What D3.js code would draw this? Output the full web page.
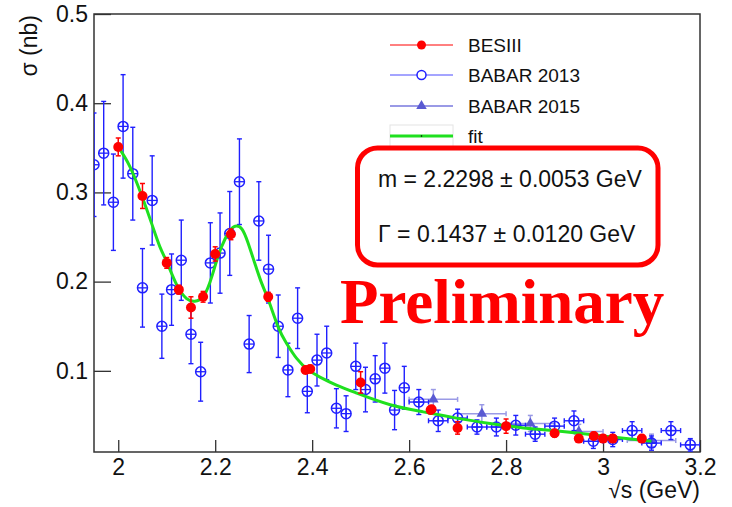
<!DOCTYPE html>
<html>
<head>
<meta charset="utf-8">
<script src="https://cdn.jsdelivr.net/npm/d3@7"></script>
<style>
  body { margin: 0; background: #fff; }
</style>
</head>
<body>
<script>
// BESIII points
const besX = [2.0, 2.05, 2.1, 2.125, 2.15, 2.175, 2.2, 2.2324, 2.3094, 2.3864, 2.396, 2.5,
              2.6444, 2.6464, 2.7, 2.8, 2.9, 2.95, 2.981, 3.0, 3.02, 3.08];
const besY = [0.351, 0.296, 0.221, 0.191, 0.171, 0.183, 0.231, 0.253, 0.183, 0.101, 0.102, 0.087,
              0.056, 0.057, 0.036, 0.038, 0.030, 0.024, 0.027, 0.024, 0.024, 0.024];
const besErr = [0.010, 0.014, 0.006, 0.005, 0.012, 0.006, 0.008, 0.006, 0.005, 0.004, 0.004, 0.012,
                0.004, 0.004, 0.007, 0.008, 0.004, 0.004, 0.004, 0.004, 0.004, 0.004];

// BABAR 2013
const b13X = [1.95, 1.97, 1.99, 2.01, 2.03, 2.05, 2.07, 2.09, 2.11, 2.13, 2.15, 2.17, 2.19, 2.21,
              2.23, 2.25, 2.27, 2.29, 2.31, 2.33, 2.35, 2.37, 2.39, 2.41, 2.43, 2.45, 2.47, 2.49,
              2.51, 2.53, 2.55, 2.57, 2.59,
              2.62, 2.66, 2.70, 2.74, 2.78, 2.82, 2.86, 2.90, 2.94, 2.98, 3.02, 3.06, 3.10, 3.14, 3.18];
const b13Y = [0.331, 0.344, 0.289, 0.374, 0.321, 0.193, 0.291, 0.150, 0.191, 0.224, 0.141, 0.099, 0.221, 0.232,
              0.254, 0.312, 0.130, 0.268, 0.214, 0.150, 0.101, 0.159, 0.077, 0.112, 0.120, 0.058, 0.052, 0.105,
              0.079, 0.091, 0.103, 0.056, 0.081,
              0.065, 0.044, 0.047, 0.037, 0.037, 0.039, 0.029, 0.038, 0.044, 0.021, 0.023, 0.033, 0.019, 0.033, 0.017];
const b13Err = [0.058, 0.058, 0.054, 0.058, 0.052, 0.044, 0.050, 0.036, 0.040, 0.045, 0.033, 0.033, 0.045, 0.045,
                0.047, 0.048, 0.032, 0.044, 0.038, 0.035, 0.030, 0.034, 0.024, 0.029, 0.030, 0.022, 0.020, 0.026,
                0.025, 0.026, 0.028, 0.022, 0.024,
                0.014, 0.012, 0.010, 0.008, 0.010, 0.011, 0.008, 0.009, 0.011, 0.008, 0.008, 0.010, 0.008, 0.010, 0.007];
const b13XErr = [0, 0, 0, 0, 0, 0, 0, 0, 0, 0, 0, 0, 0, 0,
                 0, 0, 0, 0, 0, 0, 0, 0, 0, 0, 0, 0, 0, 0,
                 0, 0, 0, 0, 0,
                 0.02, 0.02, 0.02, 0.02, 0.02, 0.02, 0.02, 0.02, 0.02, 0.02, 0.02, 0.02, 0.02, 0.02, 0.02];

// BABAR 2015
const b15X = [2.65, 2.75, 2.85, 2.95, 3.10];
const b15Y = [0.068, 0.052, 0.041, 0.032, 0.022];
const b15Err = [0.011, 0.010, 0.009, 0.008, 0.007];
const b15XErr = [0.05, 0.05, 0.05, 0.05, 0.05];

// fit curve, sampled
const fitX = [2.0, 2.024, 2.048, 2.069, 2.086, 2.101, 2.121, 2.141, 2.158, 2.175, 2.189, 2.2, 2.213,
              2.229, 2.241, 2.255, 2.268, 2.282, 2.296, 2.31, 2.33, 2.347, 2.368, 2.392, 2.416,
              2.45, 2.492, 2.561, 2.629, 2.698, 2.767, 2.836, 2.897, 3.0, 3.1];
const fitY = [0.351, 0.329, 0.297, 0.265, 0.239, 0.221, 0.196, 0.181, 0.178, 0.183, 0.199, 0.218, 0.239,
              0.256, 0.262, 0.259, 0.243, 0.220, 0.198, 0.179, 0.149, 0.131, 0.114, 0.101, 0.093,
              0.084, 0.075, 0.062, 0.054, 0.047, 0.041, 0.036, 0.033, 0.027, 0.021];

const xMajor = [2.0, 2.2, 2.4, 2.6, 2.8, 3.0, 3.2];
const xMinor = [1.95, 2.05, 2.1, 2.15, 2.25, 2.3, 2.35, 2.45, 2.5, 2.55, 2.65, 2.7, 2.75, 2.85, 2.9, 2.95, 3.05, 3.1, 3.15];
const yMajor = [0.1, 0.2, 0.3, 0.4, 0.5];
const yMinor = [0.02, 0.04, 0.06, 0.08, 0.12, 0.14, 0.16, 0.18, 0.22, 0.24, 0.26, 0.28,
                0.32, 0.34, 0.36, 0.38, 0.42, 0.44, 0.46, 0.48];

const legendLabels = ['BESIII', 'BABAR 2013', 'BABAR 2015', 'fit'];
const fitLabels = ['m = 2.2298 \u00b1 0.0053 GeV', '\u0393 = 0.1437 \u00b1 0.0120 GeV'];

const W = 732, H = 507;
const L = 94, R = 700, T = 14, B = 452;
const sans = '"Liberation Sans", Arial, sans-serif';

const red = '#ff0000', blue = '#2020ff', violet = '#5a5ad2', violetLight = '#9a9ae6', green = '#1fe01f';

const svg = d3.select('body').append('svg')
              .attr('width', W)
              .attr('height', H)
              .style('font-family', sans);

const x = d3.scaleLinear().domain([1.95, 3.2]).range([L, R]);
const y = d3.scaleLinear().domain([0.009, 0.5]).range([B, T]);

svg.append('clipPath').attr('id', 'plot-clip')
   .append('rect').attr('x', L).attr('y', T).attr('width', R - L).attr('height', B - T);

// axes, ticks pointing inward
const gx = svg.append('g').attr('transform', `translate(0,${B})`);
gx.call(d3.axisBottom(x).tickValues(xMinor).tickSize(-6).tickFormat(''));
gx.call(d3.axisBottom(x).tickValues(xMajor).tickSize(-12).tickPadding(7)
          .tickFormat(d => d3.format('.1f')(d).replace(/\.0$/, '')));
const gy = svg.append('g').attr('transform', `translate(${L},0)`);
gy.call(d3.axisLeft(y).tickValues(yMinor).tickSize(-9).tickFormat(''));
gy.call(d3.axisLeft(y).tickValues(yMajor).tickSize(-17).tickPadding(6).tickFormat(d3.format('.1f')));

svg.selectAll('.domain').remove();
svg.selectAll('.tick line').attr('stroke', '#333').attr('stroke-width', 1.3);
svg.selectAll('.tick text').attr('font-size', 23).attr('fill', '#111')
   .attr('font-family', sans);

svg.append('rect')
   .attr('x', L).attr('y', T).attr('width', R - L).attr('height', B - T)
   .attr('fill', 'none').attr('stroke', '#333').attr('stroke-width', 1.5);

svg.append('text')
   .attr('transform', `translate(37,15) rotate(-90)`)
   .attr('text-anchor', 'end')
   .attr('font-size', 23).attr('fill', '#111')
   .text('\u03c3 (nb)');
svg.append('text')
   .attr('x', R).attr('y', 498)
   .attr('text-anchor', 'end')
   .attr('font-size', 23).attr('fill', '#111')
   .text('\u221as (GeV)');

const plot = svg.append('g').attr('clip-path', 'url(#plot-clip)');

function errorBars(g, xs, ys, es, xes, color, width, cap){
  xs.forEach((xv, i) => {
    const cx = x(xv), cy = y(ys[i]);
    const top = y(ys[i] + es[i]), bot = y(ys[i] - es[i]);
    g.append('line').attr('x1', cx).attr('x2', cx).attr('y1', top).attr('y2', bot)
     .attr('stroke', color).attr('stroke-width', width);
    g.append('line').attr('x1', cx - cap).attr('x2', cx + cap).attr('y1', top).attr('y2', top)
     .attr('stroke', color).attr('stroke-width', width);
    g.append('line').attr('x1', cx - cap).attr('x2', cx + cap).attr('y1', bot).attr('y2', bot)
     .attr('stroke', color).attr('stroke-width', width);
    if(xes && xes[i] > 0){
      const lft = x(xv - xes[i]), rgt = x(xv + xes[i]);
      g.append('line').attr('x1', lft).attr('x2', rgt).attr('y1', cy).attr('y2', cy)
       .attr('stroke', color).attr('stroke-width', width);
      g.append('line').attr('x1', lft).attr('x2', lft).attr('y1', cy - cap).attr('y2', cy + cap)
       .attr('stroke', color).attr('stroke-width', width);
      g.append('line').attr('x1', rgt).attr('x2', rgt).attr('y1', cy - cap).attr('y2', cy + cap)
       .attr('stroke', color).attr('stroke-width', width);
    }
  });
}

// BABAR 2015 triangles
errorBars(plot, b15X, b15Y, b15Err, b15XErr, violetLight, 1.5, 2.5);
const tri = d3.symbol().type(d3.symbolTriangle).size(48);
plot.selectAll('.b15').data(b15X).join('path')
    .attr('class', 'b15')
    .attr('d', tri)
    .attr('transform', (d, i) => `translate(${x(d)},${y(b15Y[i])})`)
    .attr('fill', violet);

// BABAR 2013 open circles with cross
errorBars(plot, b13X, b13Y, b13Err, b13XErr, blue, 1.4, 2.5);
plot.selectAll('.b13').data(b13X).join('g')
    .attr('class', 'b13')
    .attr('transform', (d, i) => `translate(${x(d)},${y(b13Y[i])})`)
    .each(function(){
      const g = d3.select(this);
      g.append('circle').attr('r', 5).attr('fill', 'none').attr('stroke', blue).attr('stroke-width', 1.5);
      g.append('line').attr('x1', -5).attr('x2', 5).attr('stroke', blue).attr('stroke-width', 1.3);
      g.append('line').attr('y1', -5).attr('y2', 5).attr('stroke', blue).attr('stroke-width', 1.3);
    });

// fit
const fitLine = d3.line()
                  .x(d => x(d[0]))
                  .y(d => y(d[1]))
                  .curve(d3.curveNatural);
plot.append('path')
    .datum(fitX.map((d, i) => [d, fitY[i]]))
    .attr('d', fitLine)
    .attr('fill', 'none')
    .attr('stroke', green)
    .attr('stroke-width', 3);

// BESIII
errorBars(plot, besX, besY, besErr, null, red, 1.5, 2.5);
plot.selectAll('.bes').data(besX).join('circle')
    .attr('class', 'bes')
    .attr('cx', d => x(d))
    .attr('cy', (d, i) => y(besY[i]))
    .attr('r', 5)
    .attr('fill', red);

// legend
const legY = [45, 75, 106, 136];
const leg = svg.append('g');
leg.append('rect').attr('x', 390).attr('y', 125).attr('width', 63).attr('height', 22)
   .attr('fill', 'none').attr('stroke', '#e4e4e4').attr('stroke-width', 1);
leg.append('line').attr('x1', 390).attr('x2', 453).attr('y1', legY[0]).attr('y2', legY[0])
   .attr('stroke', red).attr('stroke-width', 1);
leg.append('circle').attr('cx', 421.5).attr('cy', legY[0]).attr('r', 4.5).attr('fill', red);
leg.append('line').attr('x1', 390).attr('x2', 453).attr('y1', legY[1]).attr('y2', legY[1])
   .attr('stroke', '#4a4aff').attr('stroke-width', 1);
leg.append('circle').attr('cx', 421.5).attr('cy', legY[1]).attr('r', 4.5)
   .attr('fill', '#fff').attr('stroke', blue).attr('stroke-width', 1.5);
leg.append('line').attr('x1', 390).attr('x2', 453).attr('y1', legY[2]).attr('y2', legY[2])
   .attr('stroke', violetLight).attr('stroke-width', 2);
leg.append('path').attr('d', tri).attr('transform', `translate(421.5,${legY[2]})`).attr('fill', violet);
leg.append('line').attr('x1', 390).attr('x2', 453).attr('y1', legY[3]).attr('y2', legY[3])
   .attr('stroke', green).attr('stroke-width', 3);
leg.append('circle').attr('cx', 421.5).attr('cy', legY[3]).attr('r', 0.8).attr('fill', '#000');
leg.selectAll('.leg-text').data(legendLabels).join('text')
   .attr('class', 'leg-text')
   .attr('x', 468)
   .attr('y', (d, i) => legY[i] + 6.5)
   .attr('font-size', 19).attr('fill', '#111')
   .text(d => d);

// fit result box
svg.append('rect')
   .attr('x', 357.5).attr('y', 148).attr('width', 300.5).attr('height', 117)
   .attr('rx', 20).attr('ry', 20)
   .attr('fill', '#fff').attr('stroke', red).attr('stroke-width', 5);
svg.selectAll('.fit-text').data(fitLabels).join('text')
   .attr('class', 'fit-text')
   .attr('x', 378)
   .attr('y', (d, i) => [187, 242][i])
   .attr('font-size', 23).attr('fill', '#111')
   .text(d => d);

svg.append('text')
   .attr('x', 340).attr('y', 323)
   .style('font-family', '"Liberation Serif", "Times New Roman", serif')
   .style('font-weight', 'bold')
   .attr('font-size', 63)
   .attr('fill', red)
   .text('Preliminary');
</script>
</body>
</html>
